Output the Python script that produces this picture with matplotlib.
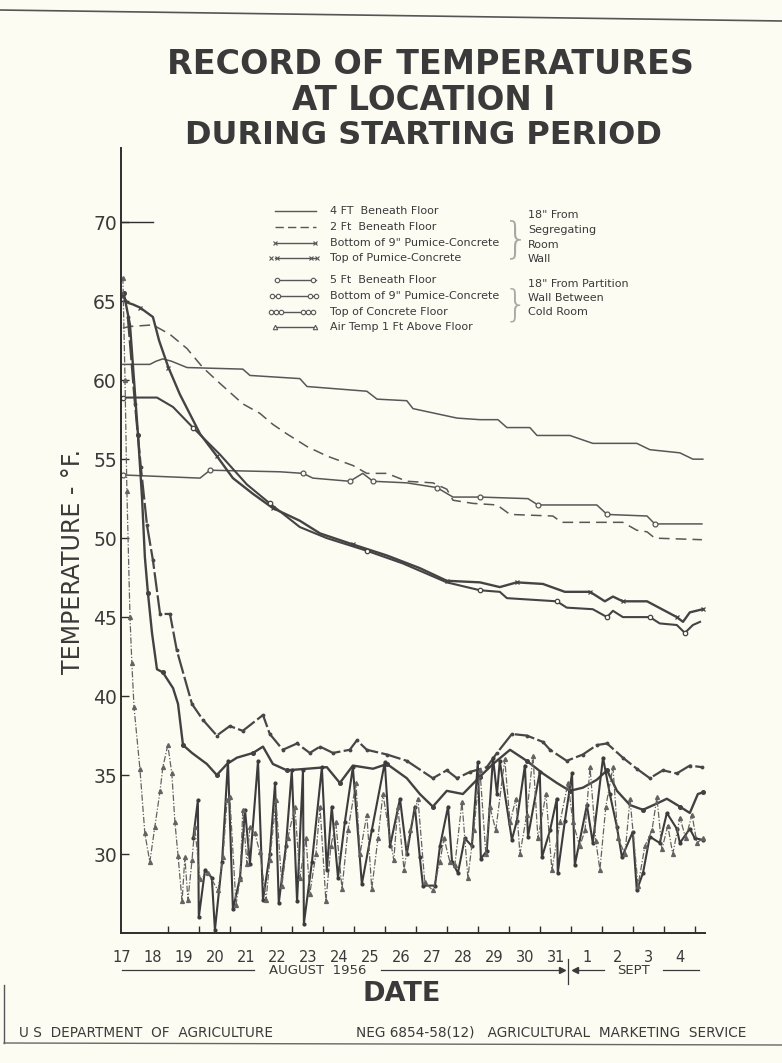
import matplotlib
matplotlib.use('Agg')
import matplotlib.pyplot as plt
from matplotlib.lines import Line2D

# ---------------- data ----------------
date_labels = ['17', '18', '19', '20', '21', '22', '23', '24', '25', '26', '27',
               '28', '29', '30', '31', '1', '2', '3', '4']
label_days = list(range(17, 36))
y_ticks = [30, 35, 40, 45, 50, 55, 60, 65, 70]

ft4_day = [17.03, 17.90, 18.10, 18.32, 18.60, 19.10, 20.90, 21.13, 22.74, 22.97, 24.90, 25.23,
           26.19, 26.39, 27.81, 28.55, 29.13, 29.42, 30.16, 30.39, 31.45, 32.19, 33.61, 34.03,
           35.00, 35.42, 35.74]
ft4_temp = [61.0, 61.0, 61.2, 61.35, 61.2, 60.8, 60.7, 60.3, 60.1, 59.6, 59.3, 58.8,
            58.7, 58.2, 57.6, 57.5, 57.5, 57.0, 57.0, 56.5, 56.5, 56.0, 56.0, 55.6,
            55.4, 55.0, 55.0]

ft2_day = [17.03, 17.26, 18.00, 18.55, 19.10, 19.61, 20.16, 20.90, 21.45, 21.87, 22.32, 22.97,
           23.61, 24.45, 24.90, 25.55, 26.19, 27.03, 27.48, 27.68, 28.32, 29.10, 29.52, 30.90,
           31.19, 33.16, 33.61, 33.94, 34.19, 35.71]
ft2_temp = [63.3, 63.4, 63.5, 62.9, 62.0, 60.8, 59.8, 58.5, 57.9, 57.2, 56.6, 55.8,
            55.2, 54.6, 54.1, 54.1, 53.6, 53.5, 53.1, 52.4, 52.2, 52.1, 51.5, 51.4,
            51.0, 51.0, 50.5, 50.4, 50.0, 49.9]

ft5_day = [17.03, 19.52, 19.84, 22.10, 22.84, 23.16, 24.35, 24.77, 25.10, 26.19, 27.16, 27.68,
           28.55, 30.10, 30.42, 32.32, 32.65, 33.94, 34.19, 35.71]
ft5_temp = [54.0, 53.8, 54.3, 54.2, 54.1, 53.8, 53.6, 54.1, 53.6, 53.5, 53.2, 52.6,
            52.6, 52.5, 52.1, 52.1, 51.5, 51.4, 50.9, 50.9]

bot_seg_day = [17.03, 17.19, 17.35, 17.58, 18.00, 18.20, 18.50, 18.87, 19.52, 20.06, 20.58, 21.23,
               21.87, 22.74, 23.39, 24.45, 25.55, 26.61, 27.48, 28.55, 29.19, 29.74, 30.58, 31.29,
               32.10, 32.58, 32.84, 33.16, 33.94, 34.42, 34.90, 35.10, 35.32, 35.74]
bot_seg_temp = [65.3, 64.9, 64.8, 64.6, 64.0, 62.5, 60.8, 59.1, 56.6, 55.2, 53.8, 52.8,
                51.9, 51.1, 50.3, 49.6, 48.9, 48.1, 47.3, 47.2, 46.9, 47.2, 47.1, 46.6,
                46.6, 46.0, 46.3, 46.0, 46.0, 45.5, 45.0, 44.7, 45.3, 45.5]

bot_par_day = [17.03, 18.13, 18.65, 19.29, 20.16, 21.03, 21.77, 22.74, 23.61, 24.90, 26.06, 27.48,
               28.55, 29.19, 29.42, 31.03, 31.35, 32.19, 32.65, 32.84, 33.16, 34.03, 34.35, 34.90,
               35.16, 35.42, 35.65]
bot_par_temp = [58.9, 58.9, 58.3, 57.0, 55.3, 53.4, 52.2, 50.7, 50.0, 49.2, 48.4, 47.2,
                46.7, 46.6, 46.2, 46.0, 45.6, 45.5, 45.0, 45.4, 45.0, 45.0, 44.6, 44.5,
                44.0, 44.5, 44.7]

top_pum_day = [17.19, 17.42, 17.61, 17.81, 18.00, 18.23, 18.55, 18.77, 19.26, 19.61, 20.06, 20.48,
               20.90, 21.55, 21.77, 22.19, 22.65, 23.06, 23.39, 23.81, 24.35, 24.58, 24.90, 25.55,
               26.19, 27.03, 27.48, 27.81, 28.23, 28.77, 29.10, 29.58, 30.06, 30.58, 30.81, 31.35,
               31.87, 32.32, 32.65, 33.16, 33.61, 34.03, 34.45, 34.90, 35.32, 35.71]
top_pum_temp = [64.0, 58.5, 54.5, 50.8, 48.6, 45.2, 45.2, 42.9, 39.5, 38.5, 37.5, 38.1,
                37.8, 38.8, 37.6, 36.6, 37.0, 36.4, 36.8, 36.4, 36.6, 37.2, 36.6, 36.3,
                35.9, 34.8, 35.3, 34.8, 35.2, 35.5, 36.4, 37.6, 37.5, 37.1, 36.6, 35.9,
                36.3, 36.9, 37.0, 36.1, 35.4, 34.8, 35.3, 35.1, 35.6, 35.5]

top_con_day = [17.06, 17.26, 17.39, 17.52, 17.65, 17.74, 17.84, 17.97, 18.13, 18.32, 18.65, 18.81,
               18.97, 19.26, 19.74, 20.06, 20.39, 20.71, 21.23, 21.55, 21.87, 22.32, 22.97, 23.61,
               24.03, 24.45, 25.10, 25.55, 26.19, 26.61, 27.03, 27.48, 28.00, 28.55, 28.97, 29.52,
               30.06, 30.58, 31.03, 31.45, 31.87, 32.32, 32.65, 32.97, 33.39, 33.81, 34.26, 34.58,
               35.00, 35.32, 35.58, 35.74]
top_con_temp = [65.5, 63.5, 60.0, 56.5, 52.5, 48.8, 46.5, 44.0, 41.7, 41.5, 40.5, 39.5,
                36.9, 36.4, 35.7, 35.0, 35.7, 36.1, 36.4, 36.8, 35.7, 35.3, 35.4, 35.5,
                34.5, 35.6, 35.4, 35.7, 34.8, 33.8, 33.0, 34.0, 33.8, 34.9, 35.7, 36.6,
                35.9, 35.1, 34.5, 34.0, 34.2, 34.7, 35.3, 34.0, 33.1, 32.8, 33.2, 33.5,
                33.0, 32.6, 33.8, 33.9]

air_day = [17.03, 17.10, 17.16, 17.26, 17.32, 17.39, 17.58, 17.74, 17.90, 18.06, 18.23, 18.32,
           18.48, 18.61, 18.71, 18.81, 18.94, 19.03, 19.13, 19.26, 19.35, 19.52, 19.77, 20.10,
           20.26, 20.39, 20.48, 20.68, 20.81, 20.90, 21.03, 21.13, 21.29, 21.45, 21.65, 21.77,
           21.97, 22.16, 22.35, 22.58, 22.74, 22.94, 23.06, 23.26, 23.39, 23.58, 23.74, 23.90,
           24.10, 24.29, 24.55, 24.68, 24.90, 25.06, 25.26, 25.42, 25.77, 25.90, 26.10, 26.29,
           26.55, 26.77, 27.03, 27.26, 27.39, 27.58, 27.74, 27.97, 28.16, 28.35, 28.55, 28.74,
           28.87, 29.06, 29.35, 29.52, 29.71, 29.84, 30.06, 30.26, 30.42, 30.68, 30.87, 31.13,
           31.39, 31.55, 31.77, 31.94, 32.10, 32.29, 32.42, 32.61, 32.84, 33.00, 33.23, 33.39,
           33.65, 33.87, 34.10, 34.26, 34.42, 34.61, 34.77, 35.00, 35.19, 35.39, 35.55, 35.74]
air_temp = [66.5, 60.0, 53.0, 45.0, 42.1, 39.3, 35.4, 31.3, 29.5, 31.7, 34.0, 35.5,
            36.9, 35.1, 32.0, 29.9, 27.0, 29.8, 27.1, 29.6, 31.7, 28.4, 28.8, 27.7,
            29.8, 33.4, 33.6, 26.8, 28.4, 32.8, 29.4, 31.7, 31.3, 30.1, 27.1, 29.6,
            33.4, 28.0, 31.0, 33.0, 28.5, 31.0, 27.5, 30.0, 33.0, 27.0, 30.5, 32.0,
            27.8, 31.5, 34.5, 30.0, 32.5, 27.8, 31.0, 33.8, 29.6, 33.0, 29.0, 31.5,
            33.5, 28.2, 27.7, 29.5, 31.0, 29.5, 29.3, 33.3, 28.5, 31.5, 35.3, 30.0,
            33.0, 31.5, 36.0, 32.0, 33.5, 30.0, 32.5, 36.2, 31.0, 33.8, 29.0, 32.0,
            34.5, 32.0, 30.5, 31.5, 35.5, 30.8, 29.0, 33.0, 35.5, 31.0, 30.0, 33.5,
            28.0, 30.5, 31.5, 33.6, 30.3, 31.8, 30.0, 32.3, 31.0, 32.5, 30.7, 31.0]

air2_day = [19.30, 19.45, 19.48, 19.68, 19.90, 20.00, 20.23, 20.42, 20.58, 20.81, 20.97, 21.13,
            21.39, 21.55, 21.77, 21.94, 22.06, 22.29, 22.48, 22.65, 22.84, 22.87, 23.13, 23.45,
            23.61, 23.77, 23.97, 24.19, 24.45, 24.74, 25.06, 25.48, 25.65, 25.97, 26.19, 26.45,
            26.61, 26.71, 27.10, 27.26, 27.52, 27.65, 27.84, 28.06, 28.29, 28.48, 28.58, 28.77,
            28.97, 29.10, 29.19, 29.58, 29.74, 30.00, 30.10, 30.48, 30.55, 30.81, 31.03, 31.06,
            31.29, 31.52, 31.61, 32.00, 32.19, 32.52, 32.74, 32.97, 33.13, 33.48, 33.61, 33.81,
            34.03, 34.35, 34.58, 34.90, 35.00, 35.32, 35.48, 35.74]
air2_temp = [31.0, 33.4, 26.0, 29.0, 28.5, 25.2, 29.5, 35.9, 26.5, 28.5, 32.8, 29.4,
             35.9, 27.1, 30.0, 34.5, 26.9, 30.5, 35.3, 27.0, 35.3, 25.6, 29.5, 35.5,
             29.0, 33.0, 28.5, 32.0, 35.5, 28.1, 31.5, 35.8, 30.5, 33.5, 30.0, 33.0,
             29.8, 28.0, 28.0, 30.5, 33.0, 29.5, 28.8, 31.0, 30.5, 35.8, 29.7, 30.2,
             36.1, 33.8, 35.9, 30.9, 32.1, 35.6, 31.1, 35.2, 29.8, 31.5, 33.5, 28.8,
             32.1, 35.1, 29.3, 33.1, 30.7, 36.1, 33.8, 31.7, 29.8, 31.4, 27.7, 28.8,
             31.1, 30.7, 32.6, 31.6, 30.7, 31.6, 31.0, 30.9]

legend_labels = ['4 FT  Beneath Floor', '2 Ft  Beneath Floor', 'Bottom of 9" Pumice-Concrete',
                 'Top of Pumice-Concrete', '5 Ft  Beneath Floor', 'Bottom of 9" Pumice-Concrete',
                 'Top of Concrete Floor', 'Air Temp 1 Ft Above Floor']
note1 = ['18" From', 'Segregating', 'Room', 'Wall']
note2 = ['18" From Partition', 'Wall Between', 'Cold Room']

# ---------------- styling ----------------
W, H = 782, 1063
BG = '#fcfcf3'
INK = '#3a3a3a'
LC = '#575757'
plt.rcParams['font.family'] = ['DejaVu Sans']


def fx(x):
    return x / W


def fy(y):
    return 1 - y / H


fig = plt.figure(figsize=(W / 100, H / 100), dpi=100, facecolor=BG)
ax = fig.add_axes([fx(121), fy(933), (705 - 121) / W, (933 - 148) / H])
ax.set_facecolor(BG)
ax.set_xlim(16.97, 35.81)
ax.set_ylim(25, 74.7)
for s in ['top', 'right']:
    ax.spines[s].set_visible(False)
for s in ['left', 'bottom']:
    ax.spines[s].set_color('#2e2e2e')
    ax.spines[s].set_linewidth(1.4)

ax.set_yticks(y_ticks)
ax.set_yticklabels([str(v) for v in y_ticks])
ax.tick_params(axis='y', direction='in', length=6, width=1, colors='#2e2e2e',
               labelsize=13.5, labelcolor=INK, pad=3)
ax.set_xticks(label_days)
ax.set_xticklabels(date_labels)
ax.tick_params(axis='x', which='major', length=0, labelsize=10.5, labelcolor=INK, pad=12)
ax.set_xticks([d + 0.5 for d in label_days[1:-1]] + [35.5], minor=True)
ax.tick_params(axis='x', which='minor', direction='in', length=5, width=1, colors='#2e2e2e')
# long tick at 70
ax.plot([16.97, 18.0], [70, 70], color='#2e2e2e', lw=1.0, clip_on=False)

# series
ax.plot(ft4_day, ft4_temp, color=LC, lw=1.1)
ax.plot(ft2_day, ft2_temp, color=LC, lw=1.1, dashes=(7, 4))
ax.plot(ft5_day, ft5_temp, color=LC, lw=1.1, marker='o', ms=3.5, mfc=BG, mew=0.9, markevery=2)
ax.plot(bot_seg_day, bot_seg_temp, color='#444444', lw=1.7, marker='x', ms=3, mew=0.9, markevery=3)
ax.plot(bot_par_day, bot_par_temp, color='#444444', lw=1.5, marker='o', ms=3.2, mfc=BG, mew=0.9,
        markevery=3)
ax.plot(top_pum_day, top_pum_temp, color='#474747', lw=1.6, dashes=(9, 1.5), marker='.', ms=3.5)
ax.plot(top_con_day, top_con_temp, color='#424242', lw=1.7, marker='o', ms=2.6, markevery=3)
ax.plot(air2_day, air2_temp, color='#3c3c3c', lw=1.5, marker='.', ms=4)
ax.plot(air_day, air_temp, color='#636363', lw=0.9, dashes=(5, 1.5, 1, 1.5), marker='^', ms=2.8)

# ---------------- legend (hand built) ----------------
rows = [211, 227, 243, 258, 280, 296, 312, 327]
styles = [
    dict(ls='-', mk=None),
    dict(ls='--', mk=None),
    dict(ls='-', mk='x', pos=[[275], [315]]),
    dict(ls='-', mk='x', pos=[[271, 277], [311, 317]]),
    dict(ls='-', mk='o', pos=[[277], [313]]),
    dict(ls='-', mk='o', pos=[[272, 278], [310, 316]]),
    dict(ls='-', mk='o', pos=[[271, 276, 281], [303, 308, 313]]),
    dict(ls='-', mk='^', pos=[[275], [315]]),
]
for y, st, lab in zip(rows, styles, legend_labels):
    x0, x1 = 275, 316
    if st['mk'] == 'o' and len(st['pos'][0]) == 3:
        x0, x1 = 283, 302
    line = Line2D([fx(x0), fx(x1)], [fy(y), fy(y)], transform=fig.transFigure,
                  color=LC, lw=1.0, ls=st['ls'] if st['ls'] == '-' else (0, (6, 3)))
    fig.add_artist(line)
    if st['mk']:
        for grp in st['pos']:
            mk = Line2D([fx(v) for v in grp], [fy(y)] * len(grp), transform=fig.transFigure,
                        ls='none', marker=st['mk'], ms=3.2, mfc=BG, mec=LC, mew=0.8)
            fig.add_artist(mk)
    fig.text(fx(330), fy(y), lab, fontsize=8, color=INK, va='center', ha='left')

for y, t in zip([215, 230, 245, 259], note1):
    fig.text(fx(528), fy(y), t, fontsize=8, color=INK, va='center', ha='left')
for y, t in zip([284, 298, 312], note2):
    fig.text(fx(528), fy(y), t, fontsize=8, color=INK, va='center', ha='left')
fig.text(fx(516), fy(240), '}', fontsize=30, color='#a8a8a8', va='center', ha='center',
         fontweight='light')
fig.text(fx(516), fy(305), '}', fontsize=27, color='#a8a8a8', va='center', ha='center',
         fontweight='light')

# ---------------- titles & labels ----------------
fig.text(fx(430), fy(65), 'RECORD OF TEMPERATURES', fontsize=24, fontweight='bold', color=INK,
         ha='center', va='center')
fig.text(fx(424), fy(100), 'AT LOCATION I', fontsize=23.5, fontweight='bold', color=INK,
         ha='center', va='center')
fig.text(fx(423), fy(135), 'DURING STARTING PERIOD', fontsize=23, fontweight='bold', color=INK,
         ha='center', va='center')

fig.text(fx(73), fy(562), 'TEMPERATURE - °F.', fontsize=17, color=INK, rotation=90,
         ha='center', va='center')
fig.text(fx(402), fy(994), 'DATE', fontsize=19.5, fontweight='bold', color=INK,
         ha='center', va='center')

# August / Sept span annotation
ay = 970
fig.add_artist(Line2D([fx(122), fx(254)], [fy(ay), fy(ay)], transform=fig.transFigure, color=INK, lw=0.9))
fig.text(fx(318), fy(ay), 'AUGUST  1956', fontsize=9.5, color=INK, ha='center', va='center')
fig.add_artist(Line2D([fx(381), fx(560)], [fy(ay), fy(ay)], transform=fig.transFigure, color=INK, lw=0.9))
fig.add_artist(Line2D([fx(562)], [fy(ay)], transform=fig.transFigure, marker='>', ms=4, color=INK))
fig.add_artist(Line2D([fx(568), fx(568)], [fy(959), fy(984)], transform=fig.transFigure, color=INK, lw=0.9))
fig.add_artist(Line2D([fx(578), fx(604)], [fy(ay), fy(ay)], transform=fig.transFigure, color=INK, lw=0.9))
fig.add_artist(Line2D([fx(575)], [fy(ay)], transform=fig.transFigure, marker='<', ms=4, color=INK))
fig.text(fx(634), fy(ay), 'SEPT', fontsize=9.5, color=INK, ha='center', va='center')
fig.add_artist(Line2D([fx(663), fx(699)], [fy(ay), fy(ay)], transform=fig.transFigure, color=INK, lw=0.9))

# footer
fig.text(fx(19), fy(1033), 'U S  DEPARTMENT  OF  AGRICULTURE', fontsize=9.8, color=INK,
         ha='left', va='center')
fig.text(fx(356), fy(1033), 'NEG 6854-58(12)   AGRICULTURAL  MARKETING  SERVICE', fontsize=9.8,
         color=INK, ha='left', va='center')

# scan frame
fig.add_artist(Line2D([fx(0), fx(782)], [fy(10), fy(21)], transform=fig.transFigure, color='#555555', lw=1.2))
fig.add_artist(Line2D([fx(4), fx(4)], [fy(985), fy(1043)], transform=fig.transFigure, color='#555555', lw=1.0))
fig.add_artist(Line2D([fx(4), fx(782)], [fy(1043), fy(1045)], transform=fig.transFigure, color='#666666', lw=1.0))

fig.savefig('out.png', dpi=100, facecolor=BG)
